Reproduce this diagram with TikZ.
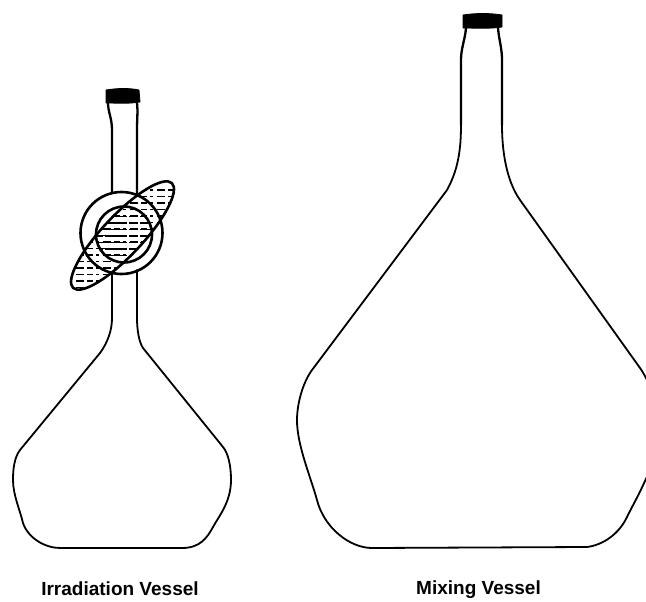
\documentclass[tikz,border=0pt]{standalone}
\usepackage{fontspec}
\setmainfont{Liberation Sans}
\tikzset{
  outline/.style={draw=black,line width=1.8pt,line join=round,line cap=round},
  neckline/.style={draw=black,line width=2.3pt,line join=round,line cap=round},
  ringline/.style={draw=black,line width=2.6pt},
  capblock/.style={fill=black,draw=black,line width=.8pt,line join=round},
  hatch/.style={draw=black,line width=1.2pt,dash pattern=on 6pt off 3pt on 3pt off 4pt on 8pt off 3pt},
  hatchdense/.style={draw=black,line width=1.5pt,dash pattern=on 22pt off 2pt on 9pt off 2pt},
  caption/.style={font=\fontsize{19}{22}\selectfont\bfseries,inner sep=0pt,text=black,anchor=base}
}
\begin{document}
\begin{tikzpicture}[x=1pt,y=-1pt]
\useasboundingbox (0,0) rectangle (646,602);
% Irradiation vessel
\draw[capblock] (106,90) .. controls (118,88) and (130,88) .. (139,90) -- (140,102) .. controls (128,104) and (118,103) .. (106,103) -- cycle;
\draw[neckline] (108,103) .. controls (108,112) and (112,118) .. (112,130) -- (112,193);
\draw[neckline] (137,103) .. controls (138,112) and (137,118) .. (137,130) -- (137,194);
\draw[outline] (112,272) -- (112,318) .. controls (112,330) and (108,342) .. (100,353) -- (20,450)
  .. controls (14,458) and (13,470) .. (13,480) .. controls (13,495) and (20,510) .. (23,523)
  .. controls (28,538) and (45,548) .. (60,548) -- (182,548)
  .. controls (200,548) and (207,538) .. (213,527) .. controls (219,516) and (231,502) .. (231,480)
  .. controls (231,465) and (228,453) .. (223,447) -- (143,348)
  .. controls (139,342) and (137,330) .. (137,318) -- (137,270);
% Beam hatching
\begin{scope}
\clip[shift={(122.5,235.5)},rotate=46.7] (0,0) ellipse [x radius=72pt,y radius=20pt];
\foreach \yy in {190,196.5,...,290} {\draw[hatch] (60,\yy) -- (180,\yy);}
\clip (124,234.5) circle [radius=28pt];
\foreach \yy in {216.5,223,...,256} {\draw[hatchdense] (70,\yy) -- (180,\yy);}
\end{scope}
% Beam and circles
\draw[ringline,shift={(122.5,235.5)},rotate=46.7] (0,0) ellipse [x radius=72pt,y radius=20pt];
\draw[ringline] (121.5,233) circle [radius=41pt];
\draw[ringline] (124,234.5) circle [radius=28pt];
% Mixing vessel
\draw[capblock] (463,15) .. controls (476,13) and (490,13) .. (502,15) -- (502,27) .. controls (490,29) and (476,28) .. (463,28) -- cycle;
\draw[neckline] (466,28) .. controls (465,40) and (461,48) .. (461,60) -- (461,125);
\draw[neckline] (498,28) .. controls (499,40) and (502,48) .. (502,60) -- (502,125);
\draw[outline] (461,125)
  .. controls (461,150) and (458,170) .. (447,190) -- (312,370)
  .. controls (302,384) and (297,405) .. (297,420) .. controls (297,445) and (310,475) .. (317,500)
  .. controls (324,528) and (350,548) .. (372,548) -- (587,547)
  .. controls (603,545) and (619,534) .. (627,517) .. controls (634,502) and (660,460) .. (660,425)
  .. controls (660,410) and (650,382) .. (640,368) -- (520,200)
  .. controls (506,180) and (502,150) .. (502,125);
% Labels
\node[caption] (irr) at (120,595.5) {Irradiation Vessel};
\node[caption] (mix) at (478.5,594.5) {Mixing Vessel};
\end{tikzpicture}
\end{document}
